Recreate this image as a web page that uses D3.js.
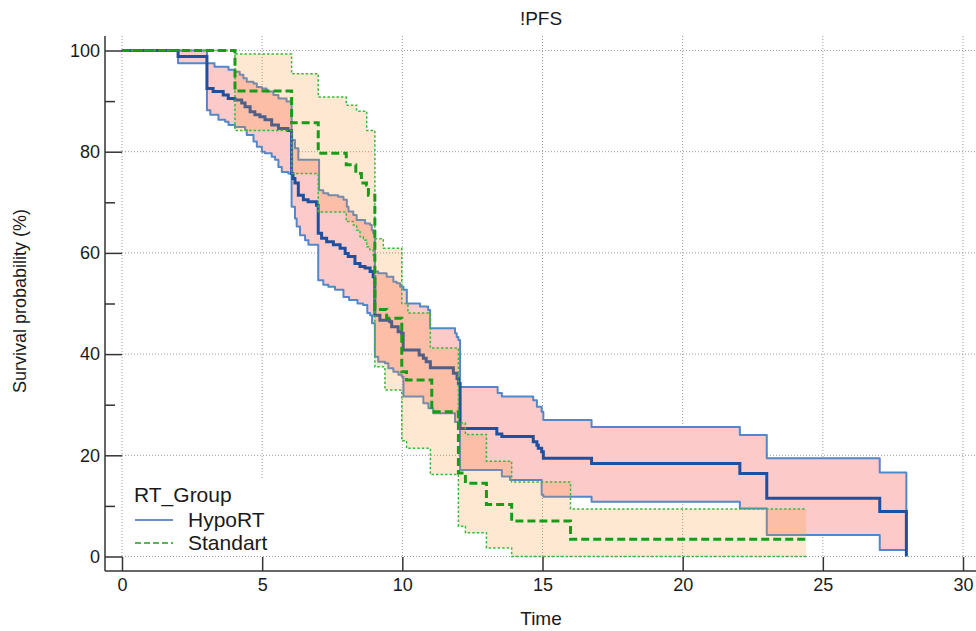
<!DOCTYPE html>
<html lang="en">
<head>
    <meta charset="UTF-8">
    <title>!PFS</title>
    <script src="https://d3js.org/d3.v7.min.js"></script>
    <style>
        body { margin: 0; background: #fff; }
        text { font-family: "Liberation Sans", Arial, sans-serif; fill: #1a1a1a; }
    </style>
</head>
<body>
    <script>
        // Kaplan-Meier steps: [time, survival %]
        const hypoEst = [[0,100],[2.0,98.8],[3.03,92.5],[3.25,91.9],[3.61,91.2],[3.79,90.5],[4.03,90.2],[4.27,89.6],[4.39,88.9],[4.57,87.9],[4.74,87.3],[4.92,86.9],[5.1,86.3],[5.34,85.3],[5.58,84.6],[5.92,84.2],[6.05,75.7],[6.1,74.7],[6.17,73.8],[6.29,71.4],[6.47,70.5],[6.64,70.1],[6.94,69.4],[7.0,63.9],[7.12,62.9],[7.3,62.2],[7.54,61.6],[7.78,60.9],[7.96,59.9],[8.07,59.3],[8.31,57.9],[8.49,57.3],[8.67,57.0],[8.85,56.3],[8.96,55.3],[9.02,47.7],[9.2,46.7],[9.55,46.4],[9.62,45.4],[9.85,44.4],[9.97,44.1],[10.03,40.8],[10.6,39.8],[10.75,39.2],[10.85,38.5],[11.0,37.3],[11.82,36.2],[11.95,35.2],[12.0,34.2],[12.06,25.3],[13.37,24.2],[13.55,23.7],[14.67,22.7],[14.8,22.0],[14.85,21.4],[14.97,20.7],[15.03,19.4],[16.75,18.4],[22.04,16.4],[23.0,11.5],[27.03,8.9],[27.98,0]]
        const hypoUpper = [[0,100],[3.03,97.5],[3.3,96.8],[3.8,96.2],[4.03,95.8],[4.2,95.2],[4.33,94.5],[4.45,93.8],[4.69,93.5],[4.81,92.8],[4.99,92.5],[5.16,91.9],[5.4,91.2],[5.58,90.5],[5.87,89.9],[6.05,82.3],[6.17,80.7],[6.29,78.4],[7.03,72.4],[7.18,71.8],[7.36,71.4],[7.71,71.1],[7.9,70.5],[8.02,69.1],[8.08,68.2],[8.25,67.5],[8.37,66.5],[8.67,65.8],[8.85,65.5],[8.91,64.5],[8.96,63.9],[9.02,56.3],[9.14,56.0],[9.44,55.3],[9.68,54.3],[9.8,54.0],[9.92,53.3],[10.04,52.7],[10.16,50.0],[10.63,49.4],[10.92,48.7],[10.99,45.1],[11.88,44.1],[11.94,43.4],[12.0,42.8],[12.06,33.5],[13.4,32.3],[13.55,31.6],[14.67,30.9],[14.8,29.6],[14.97,28.6],[15.03,27.0],[16.75,25.6],[22.04,24.0],[23.0,19.4],[27.03,16.6]]
        const hypoLower = [[0,100],[2.0,97.5],[3.03,88.2],[3.15,87.3],[3.44,86.3],[3.68,85.9],[3.8,85.3],[4.03,84.9],[4.39,84.3],[4.45,83.3],[4.69,82.0],[4.81,81.0],[4.99,80.0],[5.1,79.7],[5.34,79.0],[5.46,78.4],[5.58,77.0],[5.7,76.0],[5.93,75.7],[6.05,69.1],[6.17,66.8],[6.23,65.2],[6.35,63.5],[6.53,62.5],[6.65,61.6],[7.0,54.6],[7.18,53.7],[7.36,53.3],[7.6,52.7],[7.9,51.3],[8.1,50.7],[8.4,50.0],[8.6,49.7],[8.75,48.1],[8.85,47.7],[8.92,46.1],[9.02,39.5],[9.14,38.5],[9.38,38.2],[9.5,37.2],[9.68,36.5],[9.86,35.9],[9.98,35.5],[10.04,31.6],[10.75,30.3],[10.93,29.3],[11.1,28.3],[11.88,26.6],[12.0,25.5],[12.06,17.1],[13.55,15.8],[13.84,15.1],[14.97,12.2],[15.03,11.8],[16.75,10.8],[22.04,9.5],[23.0,4.25],[27.03,1.3]]
        const hypoEnd = 27.98

        const stdEst = [[0,100],[4.03,92.0],[6.05,85.7],[7.0,79.7],[8.0,77.4],[8.34,75.7],[8.54,73.8],[8.72,73.4],[8.79,71.4],[9.02,48.8],[9.44,47.1],[9.98,36.5],[10.15,34.9],[11.05,28.6],[12.0,16.5],[12.25,14.5],[13.0,10.3],[13.9,7.0],[16.0,3.4]]
        const stdUpper = [[0,100],[4.03,99.3],[6.05,95.4],[7.0,90.8],[8.0,89.2],[8.37,88.0],[8.73,84.2],[9.02,62.8],[9.32,60.9],[9.98,50.0],[10.2,48.1],[11.0,41.2],[12.0,26.4],[12.25,24.1],[13.0,18.8],[13.9,14.7],[16.0,9.4]]
        const stdLower = [[0,100],[4.03,84.2],[6.05,75.7],[7.0,68.1],[8.0,66.2],[8.25,65.5],[8.37,64.5],[8.49,63.2],[8.61,62.5],[8.73,61.2],[8.84,60.6],[8.96,59.2],[9.02,37.5],[9.38,32.9],[9.98,22.9],[10.15,21.4],[11.0,16.2],[12.0,6.0],[12.25,4.7],[13.0,1.7],[13.9,0]]
        const stdEnd = 24.4

        const groups = ["HypoRT", "Standart"]
        const xTicks = [0, 5, 10, 15, 20, 25, 30]
        const yTicks = [0, 20, 40, 60, 80, 100]
        const yMinor = [10, 30, 50, 70, 90]

        const W = 976, H = 631
        const svg = d3.select("body").append("svg")
            .attr("width", W)
            .attr("height", H)

        const x = d3.scaleLinear().domain([0, 30]).range([122, 963])
        const y = d3.scaleLinear().domain([0, 100]).range([556.5, 50.5])

        // value of a step function at time t
        function stepAt(arr, t) {
            let v = arr[0][1]
            for (const p of arr) { if (p[0] <= t) v = p[1] }
            return v
        }
        function bandData(upper, lower, end) {
            const times = Array.from(new Set(upper.map(d => d[0]).concat(lower.map(d => d[0]), [end]))).sort((a, b) => a - b)
            return times.map(t => ({t: t, hi: stepAt(upper, t), lo: stepAt(lower, t)}))
        }
        function extend(arr, end) {
            const last = arr[arr.length - 1]
            return last[0] < end ? arr.concat([[end, last[1]]]) : arr
        }

        const line = d3.line().curve(d3.curveStepAfter).x(d => x(d[0])).y(d => y(d[1]))
        const area = d3.area().curve(d3.curveStepAfter)
            .x(d => x(d.t)).y0(d => y(d.lo)).y1(d => y(d.hi))

        // grid
        const grid = svg.append("g")
        grid.selectAll(".hg").data(yTicks).enter().append("line")
            .attr("x1", x(0)).attr("x2", W)
            .attr("y1", d => y(d)).attr("y2", d => y(d))
            .attr("stroke", "#9a9a9a").attr("stroke-dasharray", "1,2")
        grid.selectAll(".vg").data(xTicks).enter().append("line")
            .attr("x1", d => x(d)).attr("x2", d => x(d))
            .attr("y1", 36).attr("y2", y(0))
            .attr("stroke", "#9a9a9a").attr("stroke-dasharray", "1,2")

        // HypoRT band, outline and estimate
        svg.append("path")
            .attr("d", area(bandData(hypoUpper, hypoLower, hypoEnd)))
            .attr("fill", "#fdcaca")
            .attr("stroke", "#5287c8")
            .attr("stroke-width", 2)
            .attr("stroke-linejoin", "round")
        svg.append("path")
            .attr("d", line(hypoEst))
            .attr("fill", "none")
            .attr("stroke", "#1f50a0")
            .attr("stroke-width", 3)

        // Standart band on top, semi transparent
        svg.append("path")
            .attr("d", area(bandData(stdUpper, stdLower, stdEnd)))
            .attr("fill", "rgba(255,150,50,0.22)")
            .attr("stroke", "none")
        ;[stdUpper, stdLower].forEach(ci => {
            svg.append("path")
                .attr("d", line(extend(ci, stdEnd)))
                .attr("fill", "none")
                .attr("stroke", "#3cb83c")
                .attr("stroke-width", 1.5)
                .attr("stroke-dasharray", "2.5,2")
        })
        svg.append("path")
            .attr("d", line(extend(stdEst, stdEnd)))
            .attr("fill", "none")
            .attr("stroke", "#189c18")
            .attr("stroke-width", 3)
            .attr("stroke-dasharray", "8,4")

        // legend
        const lg = svg.append("g")
        lg.append("rect").attr("x", 124).attr("y", 478).attr("width", 175).attr("height", 78).attr("fill", "#fff")
        lg.append("text").attr("x", 134).attr("y", 502).style("font-size", "21px").text("RT_Group")
        groups.forEach((g, i) => {
            const ly = 520 + i * 23
            lg.append("line").attr("x1", 135).attr("x2", 173).attr("y1", ly).attr("y2", ly)
                .attr("stroke", i === 0 ? "#3b6db4" : "#1c9e1c")
                .attr("stroke-width", 1.5)
                .attr("stroke-dasharray", i === 0 ? null : "6,3")
            lg.append("text").attr("x", 188).attr("y", ly + 7).style("font-size", "21px").text(g)
        })

        // axes
        const yAxis = svg.append("g")
            .attr("transform", "translate(105,0)")
            .call(d3.axisLeft(y).tickValues(yTicks).tickSize(-17).tickPadding(5))
        yAxis.append("g").call(d3.axisLeft(y).tickValues(yMinor).tickSize(-10).tickFormat(""))
        const xAxis = svg.append("g")
            .attr("transform", "translate(0,571)")
            .call(d3.axisBottom(x).tickValues(xTicks).tickSize(-14).tickPadding(7))
        svg.selectAll(".domain").remove()
        svg.selectAll(".tick line").attr("stroke", "#333").attr("stroke-width", 1.5)
        svg.selectAll(".tick text").style("font-size", "18px").attr("fill", "#1a1a1a")

        svg.append("line").attr("x1", 105).attr("x2", 105).attr("y1", 36).attr("y2", 571)
            .attr("stroke", "#333").attr("stroke-width", 1.5)
        svg.append("line").attr("x1", 105).attr("x2", W).attr("y1", 571).attr("y2", 571)
            .attr("stroke", "#333").attr("stroke-width", 1.5)

        // titles
        svg.append("text").attr("x", 541).attr("y", 25)
            .attr("text-anchor", "middle").style("font-size", "19px").text("!PFS")
        svg.append("text").attr("x", 541).attr("y", 625)
            .attr("text-anchor", "middle").style("font-size", "19px").text("Time")
        svg.append("text")
            .attr("transform", "translate(26,301) rotate(-90)")
            .attr("text-anchor", "middle").style("font-size", "18px")
            .text("Survival probability (%)")
    </script>
</body>
</html>
